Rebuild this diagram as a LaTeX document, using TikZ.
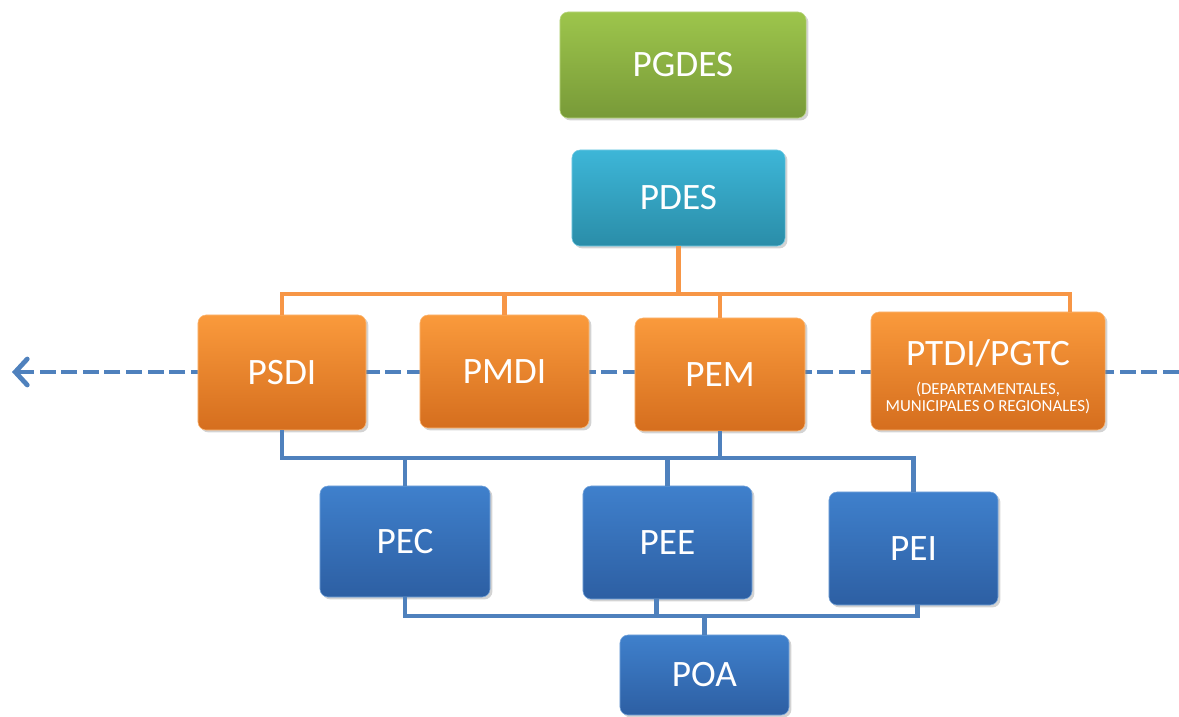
\documentclass[tikz,border=0pt]{standalone}
\usepackage{fontspec}
\setmainfont{Carlito}
\usetikzlibrary{shadows,arrows.meta}

\definecolor{pgreentop}{HTML}{9DC54C}
\definecolor{pgreenbot}{HTML}{789A38}
\definecolor{ptealtop}{HTML}{3DB6D8}
\definecolor{ptealbot}{HTML}{2A8DA8}
\definecolor{porangetop}{HTML}{FA9A3C}
\definecolor{porangebot}{HTML}{D56E1E}
\definecolor{pbluetop}{HTML}{3F80CC}
\definecolor{pbluebot}{HTML}{2D5FA3}
\definecolor{orangeline}{HTML}{F79646}
\definecolor{blueline}{HTML}{4F81BD}

\tikzset{
	planbox/.style={rounded corners=0.2cm, text=white, align=center,
		font=\fontsize{26.5}{30}\selectfont, minimum width=4.225cm, minimum height=2.825cm,
		drop shadow={opacity=0.35, shadow xshift=0.06cm, shadow yshift=-0.06cm}},
	greenbox/.style={planbox, top color=pgreentop, bottom color=pgreenbot, draw=pgreentop!70!white},
	tealbox/.style={planbox, top color=ptealtop, bottom color=ptealbot, draw=ptealtop!70!white},
	orangebox/.style={planbox, top color=porangetop, bottom color=porangebot, draw=porangetop!70!white},
	bluebox/.style={planbox, top color=pbluetop, bottom color=pbluebot, draw=pbluetop!70!white},
	orangelink/.style={draw=orangeline, line width=3.4pt},
	bluelink/.style={draw=blueline, line width=3.4pt},
	levelline/.style={draw=blueline, line width=3.4pt, dash pattern=on 0.4cm off 0.14cm,
		-{Straight Barb[length=0.3cm, width=0.65cm, line cap=round]}}
}

\begin{document}
\begin{tikzpicture}[x=0.025cm, y=-0.025cm]
	\useasboundingbox (0,0) rectangle (1179,717);

	\coordinate (levelstart) at (1179,372);
	\coordinate (levelend) at (12,372);
	\draw[levelline] (levelstart) -- (levelend);

	\node[greenbox, minimum width=6.15cm, minimum height=2.65cm] (pgdes) at (683,65) {PGDES};
	\node[tealbox, minimum width=5.325cm, minimum height=2.4cm] (pdes) at (678.5,198) {PDES};

	\node[orangebox, minimum width=4.2cm, minimum height=2.875cm] (psdi) at (282,372.5) {PSDI};
	\node[orangebox] (pmdi) at (504.5,371.5) {PMDI};
	\node[orangebox, minimum width=4.25cm] (pem) at (720,374.5) {PEM};
	\node[orangebox, minimum width=5.85cm, minimum height=2.95cm] (ptdi) at (988,371)
		{\rule{0pt}{29pt}PTDI/PGTC\\[-3pt]{\fontsize{12}{12.5}\selectfont\begin{tabular}{@{}c@{}}(DEPARTAMENTALES,\\MUNICIPALES O REGIONALES)\end{tabular}}};

	\node[bluebox, minimum width=4.25cm, minimum height=2.775cm] (pec) at (405,541.5) {PEC};
	\node[bluebox] (pee) at (667.5,542.5) {PEE};
	\node[bluebox] (pei) at (913.5,548.5) {PEI};
	\node[bluebox, minimum height=2cm] (poa) at (704.5,675) {POA};

	\coordinate (orangebus) at (678.5,294);
	\coordinate (bluebus) at (720,458);
	\coordinate (poabus) at (704.5,616);

	\draw[orangelink] (pdes.south) -- (orangebus);
	\draw[orangelink] (orangebus) -| (psdi.north);
	\draw[orangelink] (orangebus) -| (pmdi.north);
	\draw[orangelink] (orangebus) -| (pem.north);
	\draw[orangelink] (orangebus) -| ([xshift=2.05cm]ptdi.north);

	\draw[bluelink] (psdi.south) |- (bluebus);
	\draw[bluelink] (pem.south) -- (bluebus);
	\draw[bluelink] (bluebus) -| (pec.north);
	\draw[bluelink] (bluebus) -| (pee.north);
	\draw[bluelink] (bluebus) -| (pei.north);

	\draw[bluelink] (pec.south) |- (poabus);
	\draw[bluelink] ([xshift=-0.28cm]pee.south) |- (poabus);
	\draw[bluelink] ([xshift=0.1cm]pei.south) |- (poabus);
	\draw[bluelink] (poabus) -- (poa.north);
\end{tikzpicture}
\end{document}
